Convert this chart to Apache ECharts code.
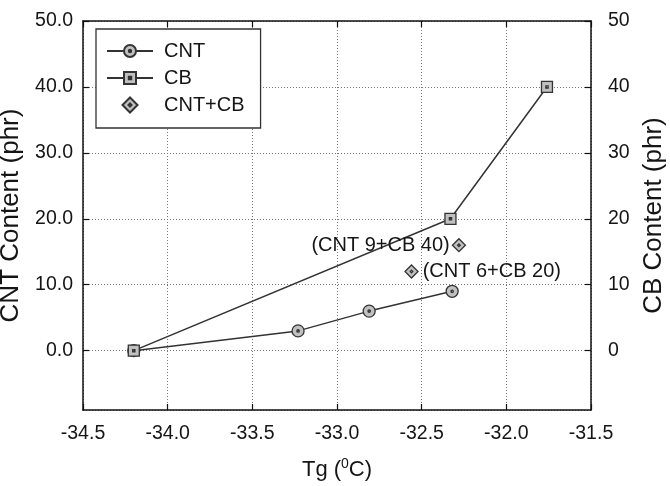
<!DOCTYPE html>
<html>
<head>
<meta charset="utf-8">
<script src="https://cdn.jsdelivr.net/npm/echarts@6/dist/echarts.min.js"></script>
<style>html,body{margin:0;padding:0;background:#fff}#c{width:670px;height:486px}</style>
</head>
<body>
<div id="c"></div>
<script>
// ---- data ----
var xTicks = [-34.5, -34.0, -33.5, -33.0, -32.5, -32.0, -31.5];
var cntX = [-34.2, -33.23, -32.81, -32.32];
var cntY = [0, 3, 6, 9];
var cbX = [-34.2, -32.33, -31.76];
var cbY = [0, 20, 40];
var mixX = [-32.56, -32.28];
var mixY = [12, 16];
var mixLabels = ['(CNT 6+CB 20)', '(CNT 9+CB 40)'];
var seriesNames = ['CNT', 'CB', 'CNT+CB'];

function zip(a, b) { return a.map(function (v, i) { return [v, b[i]]; }); }

var FONT = 'Liberation Sans, Arial, Helvetica, sans-serif';
var circlePath = 'path://M0,-10 A10,10 0 1,1 0,10 A10,10 0 1,1 0,-10 Z M0,-2 A2,2 0 1,0 0,2 A2,2 0 1,0 0,-2 Z';
var squarePath = 'path://M-10,-10 L10,-10 L10,10 L-10,10 Z M-2,-2 L-2,2 L2,2 L2,-2 Z';
var diamondPath = 'path://M0,-10 L10,0 L0,10 L-10,0 Z M0,-2 L-2,0 L0,2 L2,0 Z';

var markerStyle = { color: '#c0c0c0', borderColor: '#333', borderWidth: 1.3, opacity: 1 };
var gridLine = { show: true, lineStyle: { color: '#777', width: 1, type: [1, 2] } };
var TXT = '#151515';

var chart = echarts.init(document.getElementById('c'), null, { renderer: 'canvas' });
chart.setOption({
  backgroundColor: '#fff',
  animation: false,
  textStyle: { fontFamily: FONT },
  grid: { left: 83, right: 79, top: 21, bottom: 76, containLabel: false, outerBoundsMode: 'none' },
  legend: {
    data: seriesNames,
    orient: 'vertical',
    left: 96, top: 29,
    backgroundColor: '#fff',
    borderColor: '#333', borderWidth: 1.3, borderRadius: 0,
    padding: [12, 16, 13, 10],
    itemWidth: 46, itemHeight: 15, itemGap: 7,
    textStyle: { fontSize: 20, color: TXT, fontFamily: FONT, padding: [0, 0, 0, 6] }
  },
  xAxis: [{
    type: 'value', min: xTicks[0], max: xTicks[xTicks.length - 1], interval: 0.5,
    name: 'Tg ({s|0}C)', nameLocation: 'middle', nameGap: 47,
    nameTextStyle: { fontSize: 22, color: TXT, fontFamily: FONT,
      rich: { s: { fontSize: 14, color: TXT, fontFamily: FONT, padding: [0, 0, 12, 0] } } },
    axisLine: { show: true, onZero: false, lineStyle: { color: '#111', width: 1.5 } },
    axisTick: { show: true, inside: true, length: 6, lineStyle: { color: '#111', width: 1.2 } },
    axisLabel: { fontSize: 19.5, color: TXT, margin: 14, formatter: function (v) { return v.toFixed(1); } },
    splitLine: gridLine
  }, {
    type: 'value', position: 'top', min: xTicks[0], max: xTicks[xTicks.length - 1], interval: 0.5,
    axisLine: { show: true, onZero: false, lineStyle: { color: '#111', width: 1.5 } },
    axisTick: { show: true, inside: true, length: 6, lineStyle: { color: '#111', width: 1.2 } },
    axisLabel: { show: false }, splitLine: { show: false }
  }],
  yAxis: [{
    type: 'value', min: -9, max: 50, splitNumber: 5,
    name: 'CNT Content (phr)', nameLocation: 'middle', nameGap: 55, nameRotate: 90,
    nameTextStyle: { fontSize: 26, color: TXT, fontFamily: FONT },
    axisLine: { show: true, onZero: false, lineStyle: { color: '#111', width: 1.5 } },
    axisTick: { show: true, inside: true, length: 6, lineStyle: { color: '#111', width: 1.2 } },
    axisLabel: { fontSize: 19.5, color: TXT, margin: 10, showMinLabel: false,
      formatter: function (v) { return v < -1 ? '' : v.toFixed(1); } },
    splitLine: gridLine
  }, {
    type: 'value', position: 'right', min: -9, max: 50, splitNumber: 5,
    name: 'CB Content (phr)', nameLocation: 'middle', nameGap: 48, nameRotate: 90,
    nameTextStyle: { fontSize: 26, color: TXT, fontFamily: FONT },
    axisLine: { show: true, onZero: false, lineStyle: { color: '#111', width: 1.5 } },
    axisTick: { show: true, inside: true, length: 6, lineStyle: { color: '#111', width: 1.2 } },
    axisLabel: { fontSize: 19.5, color: TXT, margin: 17, showMinLabel: false,
      formatter: function (v) { return v < -1 ? '' : String(v); } },
    splitLine: { show: false }
  }],
  series: [{
    name: seriesNames[0], type: 'line', data: zip(cntX, cntY),
    symbol: circlePath, symbolSize: 12,
    lineStyle: { color: '#333', width: 1.5 }, itemStyle: markerStyle, z: 3
  }, {
    name: seriesNames[1], type: 'line', data: zip(cbX, cbY),
    symbol: squarePath, symbolSize: 11,
    lineStyle: { color: '#333', width: 1.5 }, itemStyle: markerStyle, z: 4
  }, {
    name: seriesNames[2], type: 'scatter',
    data: mixX.map(function (x, i) {
      return { value: [x, mixY[i]], label: { position: i === 0 ? 'right' : 'left', distance: i === 0 ? 4 : 2 } };
    }),
    symbol: diamondPath, symbolSize: 13,
    itemStyle: markerStyle, z: 5,
    label: { show: true, fontSize: 20, color: TXT, fontFamily: FONT,
      formatter: function (p) { return mixLabels[p.dataIndex]; } }
  }]
});
</script>
</body>
</html>
